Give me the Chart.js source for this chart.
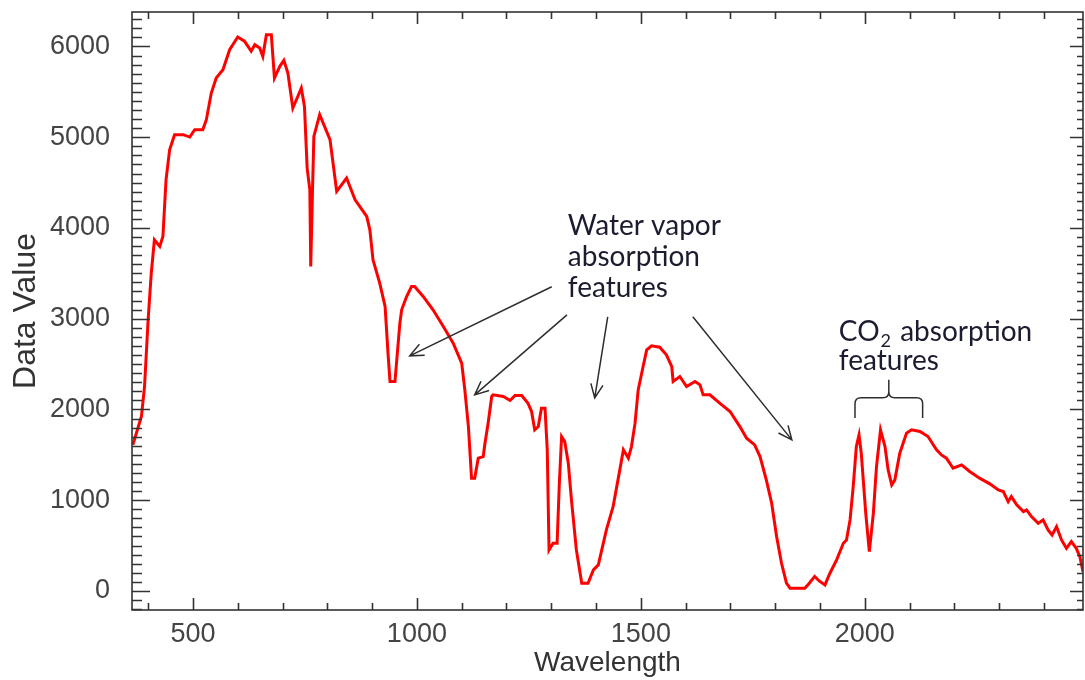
<!DOCTYPE html>
<html>
<head>
<meta charset="utf-8">
<title>Spectrum</title>
<script src="https://cdn.jsdelivr.net/npm/chart.js@4.4.1/dist/chart.umd.min.js"></script>
<style>
  html, body { margin: 0; padding: 0; background: #fff; }
  #wrap { width: 1085px; height: 680px; }
</style>
</head>
<body>
<div id="wrap"><canvas id="spec" width="1085" height="680"></canvas></div>
<script>
// Spectrum (wavelength in nm, raw data value).
const wavelength = [
  366, 385, 392, 400, 407, 414, 426, 433, 440, 448, 459, 478, 493, 504, 522, 530, 541, 552, 567, 582,
  600, 615, 630, 638, 649, 656, 664, 675, 682, 694, 703, 712, 723, 731, 742, 749, 755, 761, 763, 767,
  770, 783, 806, 821, 843, 862, 888, 895, 902, 917, 929, 936, 940, 951, 962, 966, 977, 988, 995, 1014,
  1036, 1059, 1081, 1100, 1107, 1115, 1122, 1129, 1137, 1148, 1152, 1159, 1167, 1170, 1193, 1208, 1219, 1234, 1248, 1256,
  1263, 1271, 1278, 1286, 1291, 1295, 1304, 1313, 1318, 1323, 1330, 1338, 1345, 1356, 1368, 1382, 1394, 1405, 1423, 1438,
  1453, 1461, 1472, 1479, 1487, 1494, 1505, 1513, 1524, 1542, 1557, 1569, 1572, 1587, 1602, 1621, 1632, 1639, 1654, 1676,
  1699, 1721, 1736, 1754, 1766, 1780, 1792, 1803, 1814, 1825, 1833, 1866, 1875, 1888, 1898, 1911, 1922, 1937, 1952, 1959,
  1967, 1974, 1981, 1987, 1992, 2002, 2010, 2019, 2026, 2035, 2045, 2052, 2060, 2067, 2078, 2093, 2104, 2123, 2141, 2160,
  2171, 2182, 2197, 2216, 2234, 2257, 2279, 2298, 2309, 2320, 2327, 2339, 2354, 2361, 2372, 2387, 2398, 2409, 2418, 2428,
  2439, 2450, 2461, 2472, 2480, 2487
];
const dataValue = [
  1610, 1922, 2253, 2988, 3503, 3870, 3796, 3906, 4531, 4862, 5028, 5028, 5002, 5083, 5083, 5193, 5487, 5652, 5744, 5965,
  6105, 6058, 5948, 6020, 5983, 5891, 6130, 6130, 5652, 5781, 5847, 5707, 5321, 5413, 5542, 5340, 4660, 4421, 3576, 4421,
  5009, 5248, 4973, 4403, 4550, 4311, 4127, 3980, 3649, 3393, 3135, 2583, 2308, 2308, 2951, 3098, 3245, 3355, 3355, 3245,
  3098, 2914, 2731, 2510, 2216, 1811, 1243, 1243, 1463, 1481, 1628, 1849, 2143, 2161, 2143, 2099, 2154, 2154, 2069, 1977,
  1775, 1811, 2014, 2014, 1555, 452, 526, 526, 1187, 1701, 1646, 1408, 1003, 452, 85, 85, 232, 287, 673, 929,
  1334, 1555, 1463, 1591, 1849, 2216, 2473, 2657, 2701, 2686, 2602, 2473, 2308, 2363, 2253, 2308, 2271, 2161, 2161, 2069,
  1977, 1811, 1683, 1610, 1481, 1224, 967, 599, 305, 85, 30, 30, 80, 160, 110, 66, 195, 342, 526, 562,
  783, 1150, 1591, 1720, 1518, 857, 433, 857, 1371, 1775, 1591, 1334, 1169, 1224, 1518, 1739, 1775, 1757, 1702, 1555,
  1499, 1463, 1352, 1389, 1316, 1240, 1180, 1114, 1095, 985, 1040, 948, 874, 893, 820, 746, 783, 673, 617, 709,
  562, 470, 544, 470, 378, 213
];

const xRange = [364, 2487];
const yRange = [-210, 6380];
const xTickValues = [500, 1000, 1500, 2000];
const yTickValues = [0, 1000, 2000, 3000, 4000, 5000, 6000];

// Annotations, anchored in data units (wavelength, value).
const waterLines = ['Water vapor', 'absorption', 'features'];
const waterAnchor = [1337, 3925];
const waterArrows = [
  [1301, 3352, 984, 2591],
  [1335, 3043, 1129, 2161],
  [1426, 3021, 1397, 2128],
  [1616, 3021, 1837, 1665]
];
const co2Lines = ['CO₂ absorption', 'features'];
const co2Anchor = [1942, 2756];
const co2Brace = [1978, 2129, 2128, 1907, 2326]; // left, right, bar, leg end, stem top

const AXIS = '#333333';
const INK = '#1c1c30';
const tickFont = { family: '"Liberation Sans", Arial, sans-serif', size: 27 };
const noteFont = '28px Lato, "Open Sans", sans-serif';

function arrow(ctx, x0, y0, x1, y1) {
  const ang = Math.atan2(y1 - y0, x1 - x0), L = 15, spread = 0.42;
  ctx.beginPath();
  ctx.moveTo(x0, y0); ctx.lineTo(x1, y1);
  ctx.moveTo(x1 - L * Math.cos(ang - spread), y1 - L * Math.sin(ang - spread));
  ctx.lineTo(x1, y1);
  ctx.lineTo(x1 - L * Math.cos(ang + spread), y1 - L * Math.sin(ang + spread));
  ctx.stroke();
}

// Axis boxes: keep Chart.js from reserving room for end labels that are not at the ends.
function noPad(s) { s.paddingTop = 0; s.paddingBottom = 0; s.paddingLeft = 0; s.paddingRight = 0; }

// IDL-style frame: box on all four sides with inward major/minor ticks, plus the notes.
const frame = {
  id: 'frame',
  afterDatasetsDraw(chart) {
    const { ctx, chartArea: a, scales: { x, y } } = chart;
    ctx.save();
    ctx.strokeStyle = AXIS; ctx.lineWidth = 1.6;
    ctx.strokeRect(a.left, a.top, a.right - a.left, a.bottom - a.top);
    ctx.beginPath();
    for (let v = Math.ceil(x.min / 100) * 100; v <= x.max; v += 100) {
      const px = Math.round(x.getPixelForValue(v)) + 0.5;
      const len = xTickValues.includes(v) ? 12 : 7;
      ctx.moveTo(px, a.bottom); ctx.lineTo(px, a.bottom - len);
      ctx.moveTo(px, a.top); ctx.lineTo(px, a.top + len);
    }
    for (let v = Math.ceil(y.min / 100) * 100; v <= y.max; v += 100) {
      const py = Math.round(y.getPixelForValue(v)) + 0.5;
      const major = yTickValues.includes(v);
      ctx.moveTo(a.left, py); ctx.lineTo(a.left + (major ? 18 : 10), py);
      ctx.moveTo(a.right, py); ctx.lineTo(a.right - (major ? 13 : 6), py);
    }
    ctx.stroke();

    // water vapour note + arrows
    ctx.fillStyle = INK; ctx.font = noteFont; ctx.textBaseline = 'alphabetic'; ctx.textAlign = 'left';
    const wx = x.getPixelForValue(waterAnchor[0]), wy = y.getPixelForValue(waterAnchor[1]);
    waterLines.forEach(function (s, i) { ctx.fillText(s, wx, wy + i * 31); });
    ctx.strokeStyle = '#2e2e2e'; ctx.lineWidth = 1.5;
    waterArrows.forEach(function (r) {
      arrow(ctx, x.getPixelForValue(r[0]), y.getPixelForValue(r[1]), x.getPixelForValue(r[2]), y.getPixelForValue(r[3]));
    });

    // CO2 note: draw the subscript by hand
    const cx = x.getPixelForValue(co2Anchor[0]), cy = y.getPixelForValue(co2Anchor[1]);
    const parts = co2Lines[0].split('₂');
    ctx.fillText(parts[0], cx, cy);
    let w = ctx.measureText(parts[0]).width;
    ctx.font = '18px Lato, "Open Sans", sans-serif';
    ctx.fillText('2', cx + w + 1, cy + 6);
    w += ctx.measureText('2').width + 3;
    ctx.font = noteFont;
    ctx.fillText(parts[1], cx + w, cy);
    ctx.fillText(co2Lines[1], cx, cy + 29);

    // curly bracket over the two CO2 dips
    const bl = x.getPixelForValue(co2Brace[0]), br = x.getPixelForValue(co2Brace[1]);
    const bm = (bl + br) / 2, by = y.getPixelForValue(co2Brace[2]);
    const leg = y.getPixelForValue(co2Brace[3]), stem = y.getPixelForValue(co2Brace[4]), r = 6;
    ctx.beginPath();
    ctx.moveTo(bl, leg); ctx.lineTo(bl, by + r); ctx.quadraticCurveTo(bl, by, bl + r, by);
    ctx.lineTo(bm - r, by); ctx.quadraticCurveTo(bm, by, bm, by - r); ctx.lineTo(bm, stem);
    ctx.moveTo(bm, by - r); ctx.quadraticCurveTo(bm, by, bm + r, by);
    ctx.lineTo(br - r, by); ctx.quadraticCurveTo(br, by, br, by + r); ctx.lineTo(br, leg);
    ctx.stroke();
    ctx.restore();
  }
};

new Chart(document.getElementById('spec').getContext('2d'), {
  type: 'line',
  data: {
    datasets: [{
      label: 'Data Value',
      data: wavelength.map(function (w, i) { return { x: w, y: dataValue[i] }; }),
      borderColor: '#ff0000', borderWidth: 3, pointRadius: 0, tension: 0, fill: false
    }]
  },
  options: {
    responsive: false, animation: false, devicePixelRatio: 1,
    layout: { padding: { top: 12, right: 2, left: 0, bottom: 0 } },
    plugins: { legend: { display: false }, tooltip: { enabled: false } },
    scales: {
      x: {
        type: 'linear', min: xRange[0], max: xRange[1],
        afterBuildTicks: function (s) { s.ticks = xTickValues.map(function (v) { return { value: v }; }); },
        afterFit: function (s) { s.height = 70; noPad(s); },
        grid: { display: false }, border: { display: false },
        ticks: { font: tickFont, color: '#444', padding: 0, maxRotation: 0, autoSkip: false,
          callback: function (v) { return String(v); } },
        title: { display: true, text: 'Wavelength', color: '#333', padding: { top: 0, bottom: 0 },
          font: { family: '"Liberation Sans", Arial, sans-serif', size: 28 } }
      },
      y: {
        type: 'linear', min: yRange[0], max: yRange[1],
        afterBuildTicks: function (s) { s.ticks = yTickValues.map(function (v) { return { value: v }; }); },
        afterFit: function (s) { s.width = 132; noPad(s); },
        grid: { display: false }, border: { display: false },
        ticks: { font: tickFont, color: '#444', padding: 14, autoSkip: false,
          callback: function (v) { return String(v); } },
        title: { display: true, text: 'Data Value', color: '#333', padding: { top: 7, bottom: 0 },
          font: { family: '"Liberation Sans", Arial, sans-serif', size: 32 } }
      }
    }
  },
  plugins: [frame]
});
</script>
</body>
</html>
